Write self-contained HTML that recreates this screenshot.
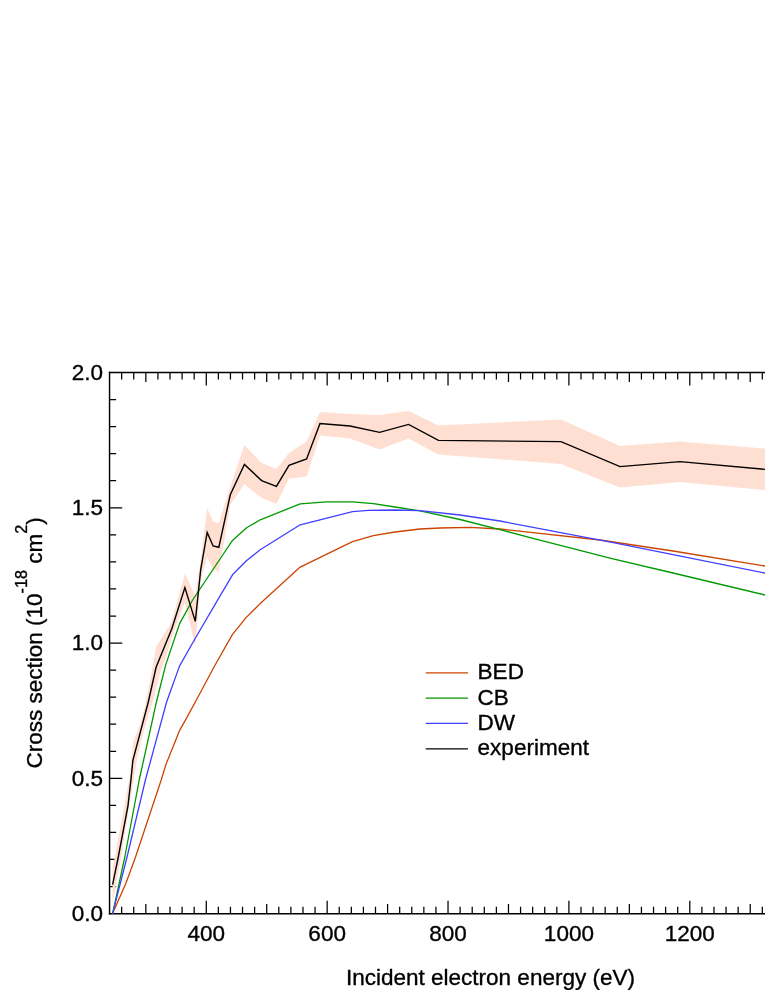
<!DOCTYPE html>
<html><head><meta charset="utf-8"><title>Cross section</title>
<style>
html,body{margin:0;padding:0;background:#fff;}
body{width:765px;height:990px;overflow:hidden;}
svg{display:block;will-change:transform;}
text{font-family:"Liberation Sans",sans-serif;font-size:22.52px;fill:#000;stroke:#000;stroke-width:0.35px;stroke-linejoin:round;}
</style></head><body>
<svg width="765" height="990" viewBox="0 0 765 990">
<rect x="0" y="0" width="765" height="990" fill="#fff"/>
<clipPath id="c"><rect x="109.55" y="372.5" width="700" height="541.90"/></clipPath>

<g stroke="#000" stroke-width="1.45" fill="none" stroke-linecap="butt">
<path d="M109.55,914.43 V371.77"/>
<path d="M108.83,372.5 H800"/>
<path d="M108.83,913.7 H800"/>
<path stroke-width="1.25" d="M121.65,913.7 v-6.9 M121.65,372.5 v6.9 M133.74,913.7 v-6.9 M133.74,372.5 v6.9 M145.83,913.7 v-9.6 M145.83,372.5 v9.6 M157.92,913.7 v-6.9 M157.92,372.5 v6.9 M170.01,913.7 v-6.9 M170.01,372.5 v6.9 M182.09,913.7 v-6.9 M182.09,372.5 v6.9 M194.18,913.7 v-6.9 M194.18,372.5 v6.9 M206.27,913.7 v-12.9 M206.27,372.5 v12.9 M218.36,913.7 v-6.9 M218.36,372.5 v6.9 M230.45,913.7 v-6.9 M230.45,372.5 v6.9 M242.53,913.7 v-6.9 M242.53,372.5 v6.9 M254.62,913.7 v-6.9 M254.62,372.5 v6.9 M266.71,913.7 v-9.6 M266.71,372.5 v9.6 M278.80,913.7 v-6.9 M278.80,372.5 v6.9 M290.89,913.7 v-6.9 M290.89,372.5 v6.9 M302.97,913.7 v-6.9 M302.97,372.5 v6.9 M315.06,913.7 v-6.9 M315.06,372.5 v6.9 M327.15,913.7 v-12.9 M327.15,372.5 v12.9 M339.24,913.7 v-6.9 M339.24,372.5 v6.9 M351.33,913.7 v-6.9 M351.33,372.5 v6.9 M363.41,913.7 v-6.9 M363.41,372.5 v6.9 M375.50,913.7 v-6.9 M375.50,372.5 v6.9 M387.59,913.7 v-9.6 M387.59,372.5 v9.6 M399.68,913.7 v-6.9 M399.68,372.5 v6.9 M411.77,913.7 v-6.9 M411.77,372.5 v6.9 M423.85,913.7 v-6.9 M423.85,372.5 v6.9 M435.94,913.7 v-6.9 M435.94,372.5 v6.9 M448.03,913.7 v-12.9 M448.03,372.5 v12.9 M460.12,913.7 v-6.9 M460.12,372.5 v6.9 M472.21,913.7 v-6.9 M472.21,372.5 v6.9 M484.29,913.7 v-6.9 M484.29,372.5 v6.9 M496.38,913.7 v-6.9 M496.38,372.5 v6.9 M508.47,913.7 v-9.6 M508.47,372.5 v9.6 M520.56,913.7 v-6.9 M520.56,372.5 v6.9 M532.65,913.7 v-6.9 M532.65,372.5 v6.9 M544.73,913.7 v-6.9 M544.73,372.5 v6.9 M556.82,913.7 v-6.9 M556.82,372.5 v6.9 M568.91,913.7 v-12.9 M568.91,372.5 v12.9 M581.00,913.7 v-6.9 M581.00,372.5 v6.9 M593.09,913.7 v-6.9 M593.09,372.5 v6.9 M605.17,913.7 v-6.9 M605.17,372.5 v6.9 M617.26,913.7 v-6.9 M617.26,372.5 v6.9 M629.35,913.7 v-9.6 M629.35,372.5 v9.6 M641.44,913.7 v-6.9 M641.44,372.5 v6.9 M653.53,913.7 v-6.9 M653.53,372.5 v6.9 M665.61,913.7 v-6.9 M665.61,372.5 v6.9 M677.70,913.7 v-6.9 M677.70,372.5 v6.9 M689.79,913.7 v-12.9 M689.79,372.5 v12.9 M701.88,913.7 v-6.9 M701.88,372.5 v6.9 M713.97,913.7 v-6.9 M713.97,372.5 v6.9 M726.05,913.7 v-6.9 M726.05,372.5 v6.9 M738.14,913.7 v-6.9 M738.14,372.5 v6.9 M750.23,913.7 v-9.6 M750.23,372.5 v9.6 M762.32,913.7 v-6.9 M762.32,372.5 v6.9 M774.41,913.7 v-6.9 M774.41,372.5 v6.9 M786.49,913.7 v-6.9 M786.49,372.5 v6.9"/>
<path stroke-width="1.25" d="M109.55,886.55 h6.6 M109.55,859.49 h6.6 M109.55,832.44 h6.6 M109.55,805.38 h6.6 M109.55,778.33 h12.7 M109.55,751.27 h6.6 M109.55,724.22 h6.6 M109.55,697.16 h6.6 M109.55,670.11 h6.6 M109.55,643.05 h12.7 M109.55,616.00 h6.6 M109.55,588.94 h6.6 M109.55,561.88 h6.6 M109.55,534.83 h6.6 M109.55,507.77 h12.7 M109.55,480.72 h6.6 M109.55,453.67 h6.6 M109.55,426.61 h6.6 M109.55,399.56 h6.6"/>
</g>
<g clip-path="url(#c)" fill="none">
<polygon points="112.6,866.7 114.7,858.0 129.1,780.0 133.3,741.4 140.0,724.8 145.1,705.9 145.5,702.0 151.9,671.2 156.1,646.8 170.4,624.0 171.8,620.7 184.9,573.7 195.3,596.1 200.7,559.7 207.2,508.1 213.1,521.8 218.8,523.1 230.3,486.3 244.4,444.9 261.6,463.1 276.4,469.1 289.0,452.9 306.6,441.6 320.0,412.1 350.0,414.0 379.6,415.0 408.6,411.0 438.4,425.6 561.0,419.4 620.0,446.0 680.0,441.4 765.0,448.6 800.0,451.6 800.0,493.6 765.0,490.0 680.0,482.0 620.0,487.4 561.0,464.0 438.4,454.4 408.6,438.4 379.6,449.6 350.0,438.6 320.0,435.6 306.6,476.6 289.0,478.6 276.4,503.7 261.6,498.1 244.4,483.9 230.3,504.8 218.8,571.3 213.1,569.8 207.2,557.0 200.7,579.7 195.3,646.4 184.9,601.9 171.8,637.7 166.5,655.5 161.8,668.1 158.6,679.1 152.5,702.0 147.8,717.7 141.9,737.4 137.6,757.0 133.5,780.0 121.0,858.0 112.6,902.7" fill="#ffdfd1"/>
<polyline points="112.6,913.6 125.7,883.7 135.2,858.0 161.2,780.0 166.0,764.3 179.4,730.9 185.0,720.9 196.4,700.0 214.0,667.0 232.5,634.4 246.3,617.4 260.2,603.6 300.2,567.1 352.5,541.6 373.4,535.7 395.0,532.0 420.0,529.0 440.0,528.0 470.0,527.4 500.0,529.0 533.0,532.6 600.0,540.0 673.0,551.0 765.0,566.0 800.0,571.7" stroke="#cc4400" stroke-width="1.3" stroke-linejoin="round"/>
<polyline points="112.6,913.6 124.6,858.0 139.2,780.0 148.9,736.2 156.4,702.0 165.7,664.9 179.6,623.6 192.6,600.0 222.7,555.0 232.5,540.4 246.6,527.8 260.2,519.8 300.2,503.9 326.4,501.9 352.5,501.9 373.4,503.7 395.0,507.0 420.0,510.9 460.0,519.5 500.0,529.6 533.0,538.3 612.0,558.6 673.0,573.0 765.0,595.0 800.0,603.4" stroke="#009900" stroke-width="1.3" stroke-linejoin="round"/>
<polyline points="112.6,913.6 126.8,858.0 145.4,780.0 166.6,702.0 179.5,666.1 196.0,637.0 217.3,600.6 232.5,574.8 246.4,560.8 260.2,549.8 300.2,524.8 352.5,511.7 368.2,510.4 395.0,510.0 420.0,510.6 460.0,515.0 500.0,521.0 533.0,527.4 612.0,542.4 673.0,554.6 765.0,573.0 800.0,580.0" stroke="#4040ff" stroke-width="1.3" stroke-linejoin="round"/>
<polyline points="112.6,884.7 118.1,858.0 128.0,805.6 130.9,780.0 132.9,760.4 148.3,702.0 156.1,667.3 171.8,628.7 184.9,587.5 195.3,621.4 200.7,569.7 207.2,532.5 213.1,546.0 218.8,547.3 230.3,494.8 244.4,464.4 261.6,480.6 276.4,486.4 289.0,465.4 306.6,459.0 320.0,423.6 350.0,426.0 379.6,432.4 408.6,424.4 438.4,440.4 561.0,441.6 620.0,466.6 680.0,461.6 765.0,469.4 800.0,472.6" stroke="#000" stroke-width="1.4" stroke-linejoin="miter"/>
</g>
<text x="206.27" y="941.4" text-anchor="middle">400</text>
<text x="327.15" y="941.4" text-anchor="middle">600</text>
<text x="448.03" y="941.4" text-anchor="middle">800</text>
<text x="568.91" y="941.4" text-anchor="middle">1000</text>
<text x="689.79" y="941.4" text-anchor="middle">1200</text>
<text x="103.0" y="921.00" text-anchor="end">0.0</text>
<text x="103.0" y="785.73" text-anchor="end">0.5</text>
<text x="103.0" y="650.45" text-anchor="end">1.0</text>
<text x="103.0" y="515.17" text-anchor="end">1.5</text>
<text x="103.0" y="379.90" text-anchor="end">2.0</text>
<text x="345.9" y="985.3">Incident electron energy (eV)</text>
<text transform="translate(42.2,768.6) rotate(-90)">Cross section (10<tspan font-size="16.2" dy="-15.2">-18</tspan><tspan dy="15.2"> cm</tspan><tspan font-size="16.2" dy="-15.2">2</tspan><tspan dy="15.2">)</tspan></text>
<path d="M425.7,672.9 H467.9" stroke="#cc4400" stroke-width="1.3" fill="none"/>
<text x="477.6" y="679.4">BED</text>
<path d="M425.7,698.2 H467.9" stroke="#009900" stroke-width="1.3" fill="none"/>
<text x="477.6" y="704.7">CB</text>
<path d="M425.7,723.4 H467.9" stroke="#4040ff" stroke-width="1.3" fill="none"/>
<text x="477.6" y="729.9">DW</text>
<path d="M425.7,748.9 H467.9" stroke="#000" stroke-width="1.3" fill="none"/>
<text x="477.6" y="755.4">experiment</text>
</svg></body></html>
